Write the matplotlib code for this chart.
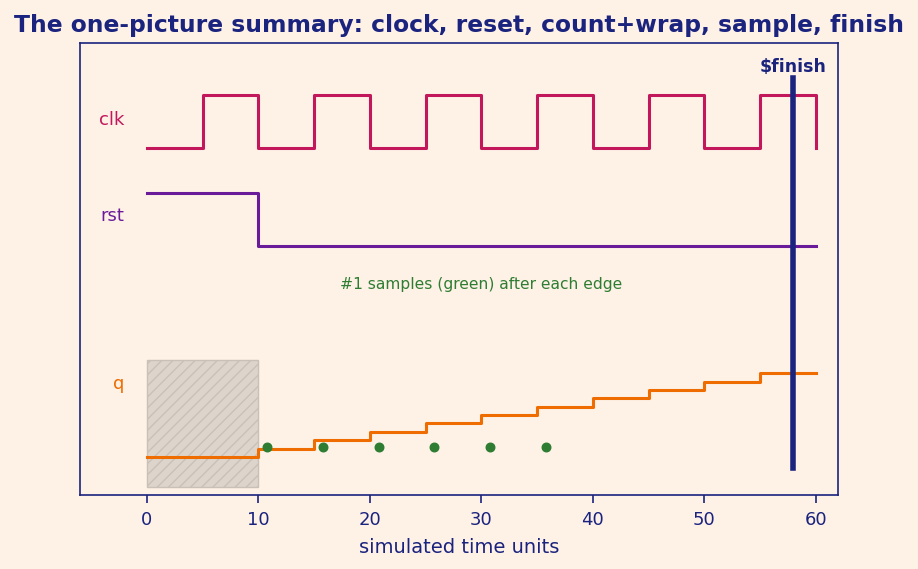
import matplotlib
matplotlib.use("Agg")
import matplotlib.pyplot as plt
from matplotlib.patches import Rectangle

# ---- data ----
clk_t = [0, 5, 10, 15, 20, 25, 30, 35, 40, 45, 50, 55, 60]
clk_v = [0, 1, 0, 1, 0, 1, 0, 1, 0, 1, 0, 1, 0]
rst_t = [0, 10, 60]
rst_v = [1, 0, 0]
q_t = [0, 10, 15, 20, 25, 30, 35, 40, 45, 50, 55, 60]
q_v = [0, 1, 2, 3, 4, 5, 6, 7, 8, 9, 10, 10]
sample_t = [10.8, 15.8, 20.8, 25.8, 30.8, 35.8]
finish_t = 58
reset_window = (0, 10)
xticks = [0, 10, 20, 30, 40, 50, 60]

# lane layout
CLK_BASE, RST_BASE, AMP = 4.68, 3.2, 0.8
Q_SCALE = 0.127
SAMPLE_Y = 0.15

NAVY = "#1a237e"
BG = "#fef1e6"

plt.rcParams['hatch.color'] = "#c9c0b8"
fig = plt.figure(figsize=(9.18, 5.69), dpi=100, facecolor=BG)
ax = fig.add_axes([0.0871, 0.130, 0.8258, 0.7944], facecolor=BG)

ax.add_patch(Rectangle((reset_window[0], -0.45), reset_window[1] - reset_window[0], 1.92,
                       facecolor="#ddd5cc", edgecolor="#c9c0b8", hatch="///", lw=1.0, zorder=1))

ax.step(clk_t, [CLK_BASE + AMP * v for v in clk_v], where="post", color="#c2185b", lw=2.2, zorder=3)
ax.step(rst_t, [RST_BASE + AMP * v for v in rst_v], where="post", color="#6a1b9a", lw=2.2, zorder=3)
ax.step(q_t, [Q_SCALE * v for v in q_v], where="post", color="#ef6c00", lw=2.2, zorder=3)
ax.scatter(sample_t, [SAMPLE_Y] * len(sample_t), s=38, color="#2e7d32", zorder=4)

ax.plot([finish_t, finish_t], [-0.17, 5.74], color=NAVY, lw=4, zorder=5)
ax.text(finish_t, 5.9, "$finish", color=NAVY, fontsize=12.5, fontweight="bold",
        ha="center", va="center")

ax.text(-2, 5.1, "clk", color="#c2185b", fontsize=13, ha="right", va="center")
ax.text(-2, 3.65, "rst", color="#6a1b9a", fontsize=13, ha="right", va="center")
ax.text(-2, 1.1, "q", color="#ef6c00", fontsize=13, ha="right", va="center")
ax.text(30, 2.62, "#1 samples (green) after each edge", color="#2e7d32", fontsize=11.2,
        ha="center", va="center")

ax.set_xlim(-6, 62)
ax.set_ylim(-0.576, 6.27)
ax.set_xticks(xticks)
ax.set_yticks([])
ax.tick_params(axis="x", colors=NAVY, labelsize=13, length=6, width=1.2, pad=5.5)
for s in ax.spines.values():
    s.set_color(NAVY)
    s.set_linewidth(1.2)
ax.set_xlabel("simulated time units", color=NAVY, fontsize=14, labelpad=6.5)
fig.suptitle("The one-picture summary: clock, reset, count+wrap, sample, finish",
             color=NAVY, fontsize=16.8, fontweight="bold", x=0.5, y=0.975)

fig.savefig("out.png", dpi=100, facecolor=BG)
